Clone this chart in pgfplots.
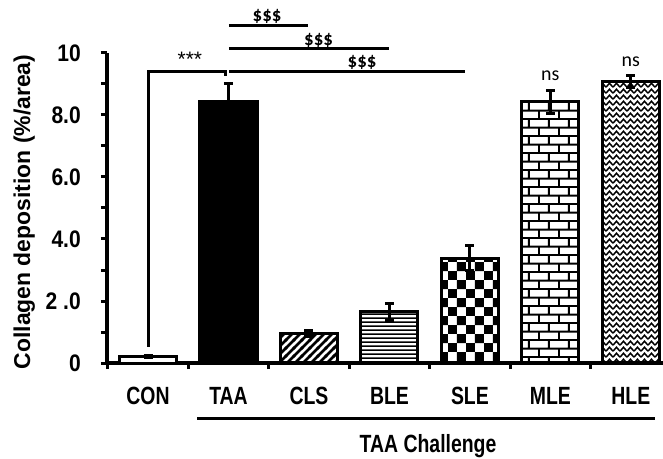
\documentclass[border=0pt]{standalone}
\usepackage{pgfplots}
\pgfplotsset{compat=1.18}
\usepackage{fontspec}
\setmainfont{Liberation Sans}
\newfontfamily\fxl[FakeStretch=0.78]{Liberation Sans Bold}
\newfontfamily\fyt[FakeStretch=0.88]{Liberation Sans Bold}
\newfontfamily\fyl{Liberation Sans Bold}
\newfontfamily\calr{Carlito}
\newfontfamily\calbd{Carlito Bold}
\usetikzlibrary{patterns}

% diagonal stripes
\pgfdeclarepatternformonly{bigdiag}{\pgfqpoint{0pt}{0pt}}{\pgfqpoint{8pt}{8pt}}{\pgfqpoint{8pt}{8pt}}{%
  \pgfpathmoveto{\pgfqpoint{0pt}{0pt}}\pgfpathlineto{\pgfqpoint{2pt}{0pt}}\pgfpathlineto{\pgfqpoint{8pt}{6pt}}%
  \pgfpathlineto{\pgfqpoint{8pt}{8pt}}\pgfpathlineto{\pgfqpoint{6pt}{8pt}}\pgfpathlineto{\pgfqpoint{0pt}{2pt}}\pgfpathclose
  \pgfpathmoveto{\pgfqpoint{6pt}{0pt}}\pgfpathlineto{\pgfqpoint{8pt}{0pt}}\pgfpathlineto{\pgfqpoint{8pt}{2pt}}\pgfpathclose
  \pgfpathmoveto{\pgfqpoint{0pt}{6pt}}\pgfpathlineto{\pgfqpoint{0pt}{8pt}}\pgfpathlineto{\pgfqpoint{2pt}{8pt}}\pgfpathclose
  \pgfusepath{fill}}
% horizontal lines
\pgfdeclarepatternformonly{bighoriz}{\pgfqpoint{0pt}{0pt}}{\pgfqpoint{10pt}{4.4pt}}{\pgfqpoint{10pt}{4.4pt}}{%
  \pgfpathrectangle{\pgfqpoint{0pt}{0pt}}{\pgfqpoint{10pt}{2pt}}\pgfusepath{fill}}
% checkerboard
\pgfdeclarepatternformonly{bigcheck}{\pgfqpoint{0pt}{0pt}}{\pgfqpoint{18pt}{18pt}}{\pgfqpoint{18pt}{18pt}}{%
  \pgfpathrectangle{\pgfqpoint{0pt}{0pt}}{\pgfqpoint{9pt}{9pt}}%
  \pgfpathrectangle{\pgfqpoint{9pt}{9pt}}{\pgfqpoint{9pt}{9pt}}\pgfusepath{fill}}
% bricks
\pgfdeclarepatternformonly{bigbricks}{\pgfqpoint{0pt}{0pt}}{\pgfqpoint{20pt}{17pt}}{\pgfqpoint{20pt}{17pt}}{%
  \pgfpathrectangle{\pgfqpoint{0pt}{0pt}}{\pgfqpoint{20pt}{2pt}}%
  \pgfpathrectangle{\pgfqpoint{0pt}{8.5pt}}{\pgfqpoint{20pt}{2pt}}%
  \pgfpathrectangle{\pgfqpoint{0pt}{2pt}}{\pgfqpoint{2pt}{6.5pt}}%
  \pgfpathrectangle{\pgfqpoint{10pt}{10.5pt}}{\pgfqpoint{2pt}{6.5pt}}\pgfusepath{fill}}
% chevrons
\pgfdeclarepatternformonly{bigzig}{\pgfqpoint{0pt}{0pt}}{\pgfqpoint{7pt}{6pt}}{\pgfqpoint{7pt}{6pt}}{%
  \pgfsetlinewidth{1.5pt}%
  \pgfpathmoveto{\pgfqpoint{0pt}{0.8pt}}\pgfpathlineto{\pgfqpoint{3.5pt}{4.8pt}}\pgfpathlineto{\pgfqpoint{7pt}{0.8pt}}%
  \pgfusepath{stroke}}

\pgfplotsset{
  mybar/.style={ybar, bar shift=0pt, bar width=0.71, draw=black, line width=3bp,
    error bars/y dir=both, error bars/y explicit,
    error bars/error bar style={line width=3bp, black},
    error bars/error mark options={rotate=90, mark size=4.5bp, line width=3bp, black}},
}

\begin{document}
\begin{tikzpicture}
\begin{axis}[
  at={(0,0)}, anchor=south west,
  scale only axis, width=556bp, height=310bp,
  xmin=-0.51, xmax=6.4, ymin=0, ymax=10,
  axis x line=bottom, axis y line=left,
  axis line style={-, line width=3.5bp, black},
  clip=false,
  tick align=outside,
  major tick length=6bp, minor tick length=6bp,
  tick style={line width=3bp, black},
  xtick={-0.5,0.5,1.5,2.5,3.5,4.5,5.5},
  xticklabel=\empty,
  extra x ticks={0,1,2,3,4,5,6},
  extra x tick labels={CON,TAA,CLS,BLE,SLE,MLE,HLE},
  extra x tick style={major tick length=0pt, tick style={draw=none},
     tick label style={anchor=base, inner sep=0pt, yshift=-41.5bp,
       font=\fxl\fontsize{25}{26}\selectfont}},
  ytick={0,2,4,6,8,10},
  yticklabels={0,2 .0,4.0,6.0,8.0,10},
  minor ytick={1,3,5,7,9},
  yticklabel style={anchor=east, inner sep=0pt, xshift=-20bp,
     font=\fyt\fontsize{24}{25}\selectfont},
]
\addplot[mybar, fill=white] coordinates {(0,0.2) +- (0,0.03)};
\addplot[mybar, fill=black, error bars/y dir=plus] coordinates {(1,8.45) +- (0,0.58)};
\addplot[mybar, pattern=bigdiag, pattern color=black] coordinates {(2,0.95) +- (0,0.1)};
\addplot[mybar, pattern=bighoriz, pattern color=black] coordinates {(3,1.65) +- (0,0.28)};
\addplot[mybar, pattern=bigcheck, pattern color=black] coordinates {(4,3.38) +- (0,0.40)};
\addplot[mybar, pattern=bigbricks, pattern color=black] coordinates {(5,8.43) +- (0,0.37)};
\addplot[mybar, pattern=bigzig, pattern color=black] coordinates {(6,9.07) +- (0,0.19)};

% significance bracket
\draw[line width=3bp] (axis cs:0,0.52) -- (axis cs:0,9.40) -- (axis cs:0.957,9.40) -- (axis cs:0.957,9.26);
\node[inner sep=0pt, font=\fontsize{21}{22}\selectfont] at (axis cs:0.52,9.80) {***};
% $$$ lines
\draw[line width=3bp] (axis cs:1.006,10.88) -- (axis cs:1.99,10.88);
\draw[line width=3bp] (axis cs:1.006,10.13) -- (axis cs:2.99,10.13);
\draw[line width=3bp] (axis cs:1.006,9.40) -- (axis cs:3.94,9.40);
\node[anchor=base, inner sep=0pt, font=\calbd\fontsize{19}{20}\selectfont] at (axis cs:1.48,11.00) {\$\$\$};
\node[anchor=base, inner sep=0pt, font=\calbd\fontsize{19}{20}\selectfont] at (axis cs:2.12,10.25) {\$\$\$};
\node[anchor=base, inner sep=0pt, font=\calbd\fontsize{19}{20}\selectfont] at (axis cs:2.66,9.52) {\$\$\$};
% ns
\node[anchor=base, inner sep=0pt, font=\calr\fontsize{20}{21}\selectfont] at (axis cs:5,9.10) {ns};
\node[anchor=base, inner sep=0pt, font=\calr\fontsize{20}{21}\selectfont] at (axis cs:6,9.55) {ns};
% TAA challenge
\draw[line width=3bp] (axis cs:0.61,-1.806) -- (axis cs:6.30,-1.806);
\node[anchor=base, inner sep=0pt, font=\fxl\fontsize{25}{26}\selectfont] at (axis cs:3.48,-2.90) {TAA Challenge};
% y label
\node[rotate=90, anchor=center, inner sep=0pt, font=\fyl\fontsize{23}{25}\selectfont] at (axis description cs:-0.149,0.487) {Collagen deposition (\%/area)};
\end{axis}
\pgfresetboundingbox
\path (-107bp,-96bp) rectangle (556bp,363bp);
\end{tikzpicture}
\end{document}
